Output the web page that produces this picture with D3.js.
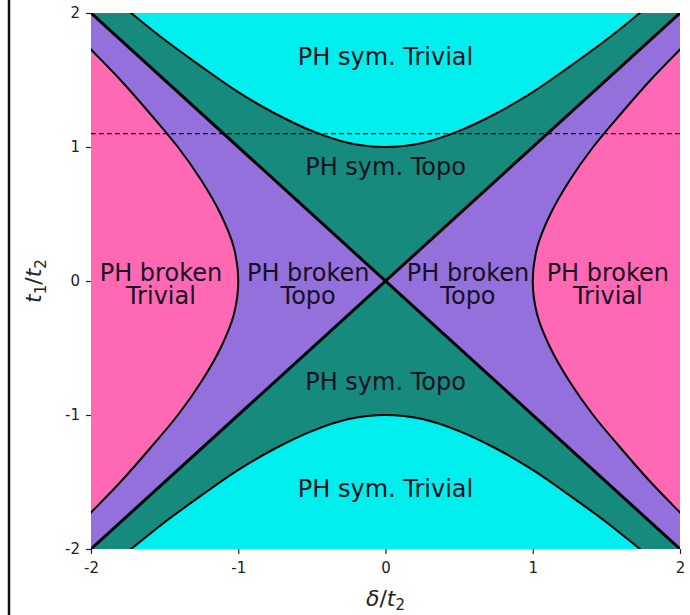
<!DOCTYPE html>
<html>
<head>
<meta charset="UTF-8" />
<title>Phase diagram</title>
<script src="https://d3js.org/d3.v7.min.js"></script>
<style>
  body { margin: 0; background: #fff; }
  text { font-family: "DejaVu Sans", sans-serif; }
</style>
</head>
<body>
<svg id="svg" width="690" height="615"></svg>
<script>
// boundary curves (delta, t1)
const deltaPts = [-2, -1.75, -1.5, -1.25, -1, -0.75, -0.5, -0.25, 0, 0.25, 0.5, 0.75, 1, 1.25, 1.5, 1.75, 2]
const symEdge = [2.24, 2.02, 1.8, 1.6, 1.41, 1.25, 1.12, 1.03, 1, 1.03, 1.12, 1.25, 1.41, 1.6, 1.8, 2.02, 2.24]   // t1 of the sym. trivial/topo edge
const t1Pts = [-2, -1.75, -1.5, -1.25, -1, -0.75, -0.5, -0.25, 0, 0.25, 0.5, 0.75, 1, 1.25, 1.5, 1.75, 2]
const brokenEdge = [2.24, 2.02, 1.8, 1.6, 1.41, 1.25, 1.12, 1.03, 1, 1.03, 1.12, 1.25, 1.41, 1.6, 1.8, 2.02, 2.24] // delta of the broken trivial/topo edge
const dashedY = 1.1
const xTicks = [-2, -1, 0, 1, 2]
const yTicks = [-2, -1, 0, 1, 2]
const labels = [
  { x: 0, y: 1.61, lines: ['PH sym. Trivial'] },
  { x: 0, y: 0.79, lines: ['PH sym. Topo'] },
  { x: 0, y: -0.81, lines: ['PH sym. Topo'] },
  { x: 0, y: -1.61, lines: ['PH sym. Trivial'] },
  { x: -1.525, y: 0, lines: ['PH broken', 'Trivial'] },
  { x: -0.525, y: 0, lines: ['PH broken', 'Topo'] },
  { x: 0.56, y: 0, lines: ['PH broken', 'Topo'] },
  { x: 1.51, y: 0, lines: ['PH broken', 'Trivial'] }
]

const colors = { symTriv: '#00eeee', symTopo: '#178a7e', brokTopo: '#9370db', brokTriv: '#ff69b4' }

const svg = d3.select('#svg')
const x = d3.scaleLinear().domain([-2, 2]).range([91, 680])
const y = d3.scaleLinear().domain([-2, 2]).range([549, 13])

svg.append('line').attr('x1', 9).attr('x2', 9).attr('y1', 0).attr('y2', 615)
  .attr('stroke', '#111').attr('stroke-width', 2.5)

svg.append('clipPath').attr('id', 'clip').append('rect')
  .attr('x', x(-2)).attr('y', y(2)).attr('width', x(2) - x(-2)).attr('height', y(-2) - y(2))
const g = svg.append('g').attr('clip-path', 'url(#clip)')

// background = sym topo, then the other regions on top
g.append('rect').attr('x', x(-2)).attr('y', y(2)).attr('width', x(2) - x(-2)).attr('height', y(-2) - y(2))
  .attr('fill', colors.symTopo)

// purple wedges |delta| > |t1|
g.append('path').attr('fill', colors.brokTopo)
  .attr('d', d3.line()([[x(-2.5), y(-2.5)], [x(-2.5), y(2.5)], [x(0), y(0)]]))
g.append('path').attr('fill', colors.brokTopo)
  .attr('d', d3.line()([[x(2.5), y(-2.5)], [x(2.5), y(2.5)], [x(0), y(0)]]))

const smooth = d3.line().curve(d3.curveCatmullRom)
const topPts = deltaPts.map((d, i) => [x(d), y(symEdge[i])])
const botPts = deltaPts.map((d, i) => [x(d), y(-symEdge[i])])
const rightPts = t1Pts.map((t, i) => [x(brokenEdge[i]), y(t)])
const leftPts = t1Pts.map((t, i) => [x(-brokenEdge[i]), y(t)])

g.append('path').attr('fill', colors.symTriv).attr('d', smooth(topPts) + `L${x(2)},${y(2.5)}L${x(-2)},${y(2.5)}Z`)
g.append('path').attr('fill', colors.symTriv).attr('d', smooth(botPts) + `L${x(2)},${y(-2.5)}L${x(-2)},${y(-2.5)}Z`)
g.append('path').attr('fill', colors.brokTriv).attr('d', smooth(rightPts) + `L${x(2.5)},${y(2)}L${x(2.5)},${y(-2)}Z`)
g.append('path').attr('fill', colors.brokTriv).attr('d', smooth(leftPts) + `L${x(-2.5)},${y(2)}L${x(-2.5)},${y(-2)}Z`)

;[topPts, botPts, rightPts, leftPts].forEach(p => {
  g.append('path').attr('d', smooth(p)).attr('fill', 'none').attr('stroke', '#000').attr('stroke-width', 2)
})
g.append('line').attr('x1', x(-2)).attr('y1', y(-2)).attr('x2', x(2)).attr('y2', y(2))
  .attr('stroke', '#000').attr('stroke-width', 3)
g.append('line').attr('x1', x(-2)).attr('y1', y(2)).attr('x2', x(2)).attr('y2', y(-2))
  .attr('stroke', '#000').attr('stroke-width', 3)

g.append('line').attr('x1', x(-2)).attr('x2', x(2)).attr('y1', y(dashedY)).attr('y2', y(dashedY))
  .attr('stroke', '#000').attr('stroke-width', 1.3).attr('stroke-dasharray', '5,3')

labels.forEach(l => {
  const t = g.append('text').attr('text-anchor', 'middle').attr('font-size', 24).attr('fill', '#151020')
  l.lines.forEach((s, i) => {
    t.append('tspan').attr('x', x(l.x)).attr('y', y(l.y) + i * 23).text(s)
  })
})

// axes
const xAxis = svg.append('g').attr('transform', `translate(0,${y(-2)})`)
  .call(d3.axisBottom(x).tickValues(xTicks).tickSize(5).tickFormat(d => String(d)))
const yAxis = svg.append('g').attr('transform', `translate(${x(-2)},0)`)
  .call(d3.axisLeft(y).tickValues(yTicks).tickSize(5).tickFormat(d => String(d)))
;[xAxis, yAxis].forEach(a => {
  a.select('.domain').remove()
  a.selectAll('text').attr('font-size', 15).attr('fill', '#222').style('font-family', 'DejaVu Sans')
  a.selectAll('line').attr('stroke', '#222').attr('stroke-width', 1.2)
})
xAxis.selectAll('text').attr('dy', '1.05em')
yAxis.selectAll('text').attr('dx', '-0.2em')

// axis titles
const xt = svg.append('text').attr('x', x(0)).attr('y', 606).attr('text-anchor', 'middle')
  .attr('font-size', 22).attr('fill', '#222')
xt.append('tspan').attr('font-style', 'italic').text('δ')
xt.append('tspan').text('/')
xt.append('tspan').attr('font-style', 'italic').text('t')
xt.append('tspan').attr('font-size', 15).attr('dy', 4).text('2')

const yt = svg.append('text').attr('transform', `translate(41,${y(0)}) rotate(-90)`).attr('text-anchor', 'middle')
  .attr('font-size', 22).attr('fill', '#222')
yt.append('tspan').attr('font-style', 'italic').text('t')
yt.append('tspan').attr('font-size', 15).attr('dy', 5).text('1')
yt.append('tspan').attr('dy', -5).text('/')
yt.append('tspan').attr('font-style', 'italic').text('t')
yt.append('tspan').attr('font-size', 15).attr('dy', 5).text('2')
</script>
</body>
</html>
